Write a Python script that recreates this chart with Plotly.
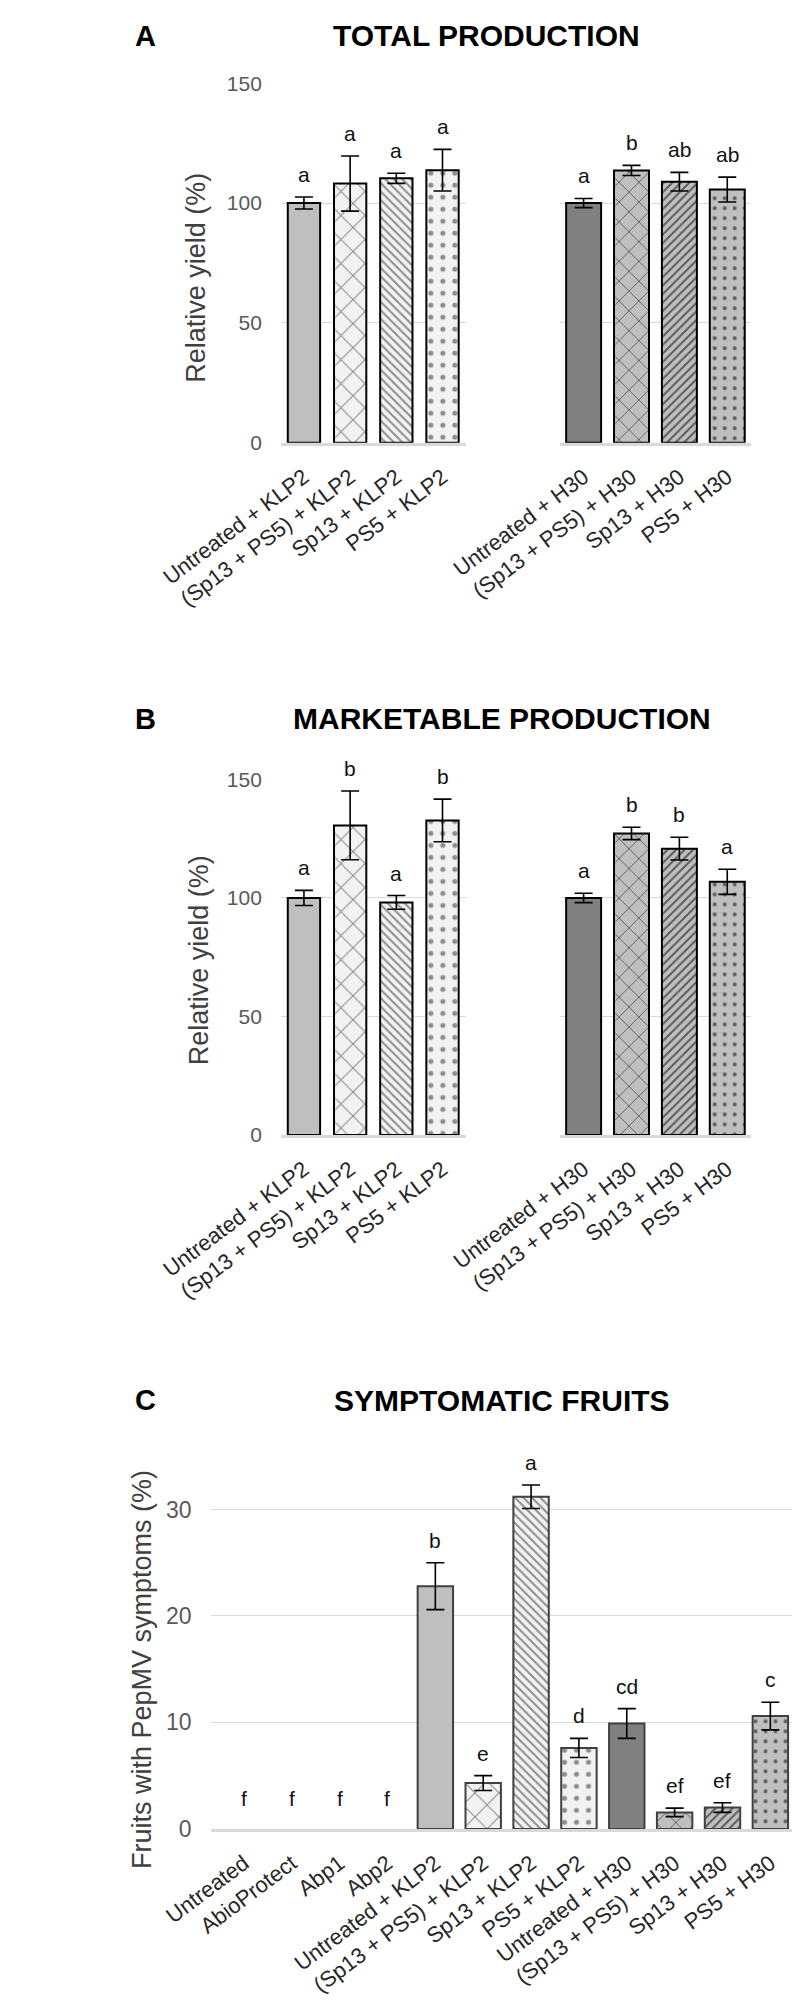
import plotly.graph_objects as go

# ---------------- data ----------------
klp2_groups = ["Untreated + KLP2", "(Sp13 + PS5) + KLP2", "Sp13 + KLP2", "PS5 + KLP2"]
h30_groups = ["Untreated + H30", "(Sp13 + PS5) + H30", "Sp13 + H30", "PS5 + H30"]

total_klp2 = [100.0, 108.1, 110.3, 113.7]
total_klp2_err = [2.5, 11.5, 2.1, 8.7]
total_klp2_letters = ["a", "a", "a", "a"]
total_h30 = [100.0, 113.6, 108.9, 105.6]
total_h30_err = [1.9, 2.1, 3.9, 5.2]
total_h30_letters = ["a", "b", "ab", "ab"]

market_klp2 = [100.0, 130.6, 98.1, 132.7]
market_klp2_err = [3.2, 14.5, 2.9, 9.0]
market_klp2_letters = ["a", "b", "a", "b"]
market_h30 = [100.0, 127.2, 120.8, 106.8]
market_h30_err = [2.0, 2.6, 4.8, 5.3]
market_h30_letters = ["a", "b", "b", "a"]

symptom_groups = ["Untreated", "AbioProtect", "Abp1", "Abp2"] + klp2_groups + h30_groups
symptom_values = [0, 0, 0, 0, 22.8, 4.3, 31.2, 7.6, 9.9, 1.55, 2.0, 10.6]
symptom_err = [0, 0, 0, 0, 2.2, 0.7, 1.1, 0.9, 1.4, 0.4, 0.45, 1.3]
symptom_letters = ["f", "f", "f", "f", "b", "e", "a", "d", "cd", "ef", "ef", "c"]

yield_ticks = [0, 50, 100, 150]
symptom_ticks = [0, 10, 20, 30]

# ---------------- styling ----------------
W, H = 800, 2007
FONT = "Liberation Sans, Arial, Helvetica, sans-serif"


def px(x):
    return x / W


def py(y):
    return 1 - y / H


def style_for(name):
    h30 = "H30" in name
    if name.startswith("(Sp13"):
        kind = "mix"
    elif name.startswith("Sp13"):
        kind = "sp13"
    elif name.startswith("PS5"):
        kind = "ps5"
    else:
        kind = "untreated"
    if h30:
        base = "#808080" if kind == "untreated" else "#bfbfbf"
        fg = "#595959"
    else:
        base = "#bfbfbf" if kind == "untreated" else "#f2f2f2"
        fg = "#8c8c8c"
    shape = {"untreated": "", "mix": "x", "sp13": "/" if h30 else "\\", "ps5": "."}[kind]
    size = {"untreated": 8, "mix": 17 if not h30 else 14, "sp13": 6, "ps5": 12 if not h30 else 10}[kind]
    sol = {"untreated": 0.2, "mix": 0.12, "sp13": 0.32, "ps5": 0.14 if not h30 else 0.12}[kind]
    return base, fg, shape, size, sol


fig = go.Figure()
annotations = []


def add_bars(cats, vals, errs, xa, ya, width, outline, outline_w):
    for c, v, e in zip(cats, vals, errs):
        if v <= 0:
            continue
        base, fg, shape, size, sol = style_for(c)
        marker = dict(color=base, line=dict(color=outline, width=outline_w))
        if shape:
            marker["pattern"] = dict(shape=shape, bgcolor=base, fgcolor=fg, size=size,
                                     solidity=sol, fillmode="replace")
        fig.add_trace(go.Bar(
            x=[c], y=[v], xaxis=xa, yaxis=ya, width=width, marker=marker,
            error_y=dict(type="data", array=[e], color="black", thickness=1.6, width=9),
            hoverinfo="skip", showlegend=False,
        ))
    # invisible trace keeps every category on the axis
    fig.add_trace(go.Scatter(x=cats, y=[0] * len(cats), xaxis=xa, yaxis=ya, mode="markers",
                             marker=dict(opacity=0), hoverinfo="skip", showlegend=False))


def letters(cats, vals, errs, letters_, xref, yref, size=21):
    for c, v, e, t in zip(cats, vals, errs, letters_):
        annotations.append(dict(
            x=c, y=v + e, xref=xref, yref=yref, text=t, showarrow=False,
            yanchor="bottom", xanchor="center", yshift=9 if e > 0 else 17,
            font=dict(family=FONT, size=size, color="#111111"),
        ))


panels = [
    ("x", "y", klp2_groups, total_klp2, total_klp2_err, total_klp2_letters, 0.70),
    ("x2", "y2", h30_groups, total_h30, total_h30_err, total_h30_letters, 0.73),
    ("x3", "y3", klp2_groups, market_klp2, market_klp2_err, market_klp2_letters, 0.70),
    ("x4", "y4", h30_groups, market_h30, market_h30_err, market_h30_letters, 0.73),
]
for xa, ya, cats, vals, errs, lets, w in panels:
    add_bars(cats, vals, errs, xa, ya, w, "#000000", 2)
    letters(cats, vals, errs, lets, xa, ya)

add_bars(symptom_groups, symptom_values, symptom_err, "x5", "y5", 0.74, "#404040", 2)
letters(symptom_groups, symptom_values, symptom_err, symptom_letters, "x5", "y5")

tickfont_x = dict(family=FONT, size=22, color="#262626")
tickfont_y = dict(family=FONT, size=21, color="#595959")

xcommon = dict(type="category", showgrid=False, zeroline=False, showline=True,
               linecolor="#d9d9d9", linewidth=3, ticks="", tickangle=-37,
               tickfont=tickfont_x, ticklabelstandoff=10, fixedrange=True)
ycommon = dict(showgrid=True, gridcolor="#d9d9d9", gridwidth=1, zeroline=False,
               showline=False, ticks="", tickfont=tickfont_y, ticklabelstandoff=18,
               fixedrange=True)

A_dom = [py(428), py(64)]
B_dom = [py(1129), py(769)]
C_dom = [py(1831.7), py(1454.4)]
L_dom = [px(178), px(396)]
R_dom = [px(507), px(733)]

fig.update_layout(
    width=W, height=H, margin=dict(l=0, r=0, t=0, b=0),
    paper_bgcolor="white", plot_bgcolor="white", showlegend=False,
    barmode="overlay",
    font=dict(family=FONT),
    xaxis=dict(xcommon, domain=L_dom, anchor="y", categoryorder="array", categoryarray=klp2_groups),
    xaxis2=dict(xcommon, domain=R_dom, anchor="y2", categoryorder="array", categoryarray=h30_groups),
    xaxis3=dict(xcommon, domain=L_dom, anchor="y3", categoryorder="array", categoryarray=klp2_groups),
    xaxis4=dict(xcommon, domain=R_dom, anchor="y4", categoryorder="array", categoryarray=h30_groups),
    xaxis5=dict(xcommon, domain=[px(95), px(795)], anchor="y5",
                categoryorder="array", categoryarray=symptom_groups),
    yaxis=dict(ycommon, domain=A_dom, anchor="x", range=[0, 150], tickvals=yield_ticks),
    yaxis2=dict(ycommon, domain=A_dom, anchor="x2", range=[0, 150], tickvals=yield_ticks,
                showticklabels=False),
    yaxis3=dict(ycommon, domain=B_dom, anchor="x3", range=[0, 150], tickvals=yield_ticks),
    yaxis4=dict(ycommon, domain=B_dom, anchor="x4", range=[0, 150], tickvals=yield_ticks,
                showticklabels=False),
    yaxis5=dict(ycommon, domain=C_dom, anchor="x5", range=[0, 35], tickvals=symptom_ticks,
                tickfont=dict(family=FONT, size=23, color="#595959")),
)

# panel letters and titles
for lab, ycap, title, tx in [("A", 16, "TOTAL PRODUCTION", 421),
                              ("B", 707.5, "MARKETABLE PRODUCTION", 439.5),
                              ("C", 1397.5, "SYMPTOMATIC FRUITS", 438.5)]:
    annotations.append(dict(x=px(4), y=py(ycap), xref="paper", yref="paper", text=f"<b>{lab}</b>",
                            showarrow=False, xanchor="left", yanchor="middle",
                            font=dict(family=FONT, size=29, color="black")))
    annotations.append(dict(x=px(tx), y=py(ycap), xref="paper", yref="paper", text=f"<b>{title}</b>",
                            showarrow=False, xanchor="center", yanchor="middle",
                            font=dict(family=FONT, size=30, color="black")))

# y-axis titles
for txt, xc, yc in [("Relative yield (%)", 78, 261), ("Relative yield (%)", 81, 952.5),
                    ("Fruits with PepMV symptoms (%)", 14, 1670)]:
    annotations.append(dict(x=px(xc), y=py(yc), xref="paper", yref="paper", text=txt,
                            textangle=-90, showarrow=False, xanchor="center", yanchor="middle",
                            font=dict(family=FONT, size=27, color="#404040")))

fig.update_layout(annotations=annotations)
fig.write_html("out.html")
